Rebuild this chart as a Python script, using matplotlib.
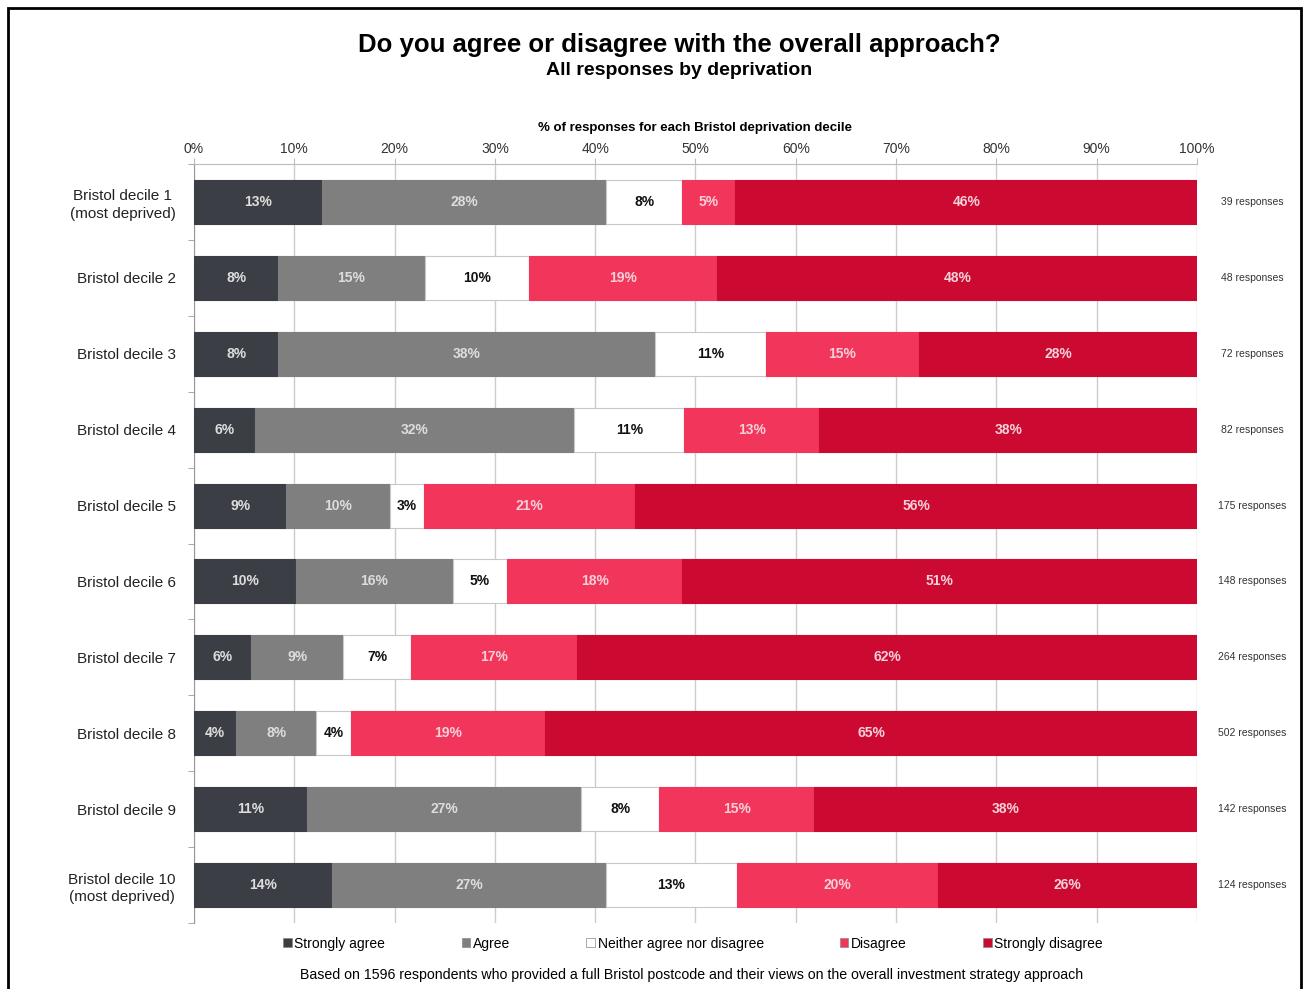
import matplotlib.pyplot as plt
import numpy as np

plt.rcParams['font.family'] = ['Liberation Sans', 'DejaVu Sans']

# data
deciles = ['Bristol decile 1\n(most deprived)', 'Bristol decile 2', 'Bristol decile 3',
           'Bristol decile 4', 'Bristol decile 5', 'Bristol decile 6', 'Bristol decile 7',
           'Bristol decile 8', 'Bristol decile 9', 'Bristol decile 10\n(most deprived)']
strongly_agree = [12.8, 8.4, 8.4, 6.1, 9.2, 10.2, 5.7, 4.2, 11.3, 13.8]
agree = [28.3, 14.6, 37.6, 31.8, 10.3, 15.6, 9.2, 8.0, 27.3, 27.3]
neither = [7.6, 10.4, 11.0, 11.0, 3.4, 5.4, 6.7, 3.5, 7.8, 13.0]
disagree = [5.2, 18.7, 15.3, 13.4, 21.1, 17.5, 16.6, 19.3, 15.4, 20.1]
strongly_disagree = [46.2, 48.0, 27.8, 37.8, 56.0, 51.3, 61.8, 65.0, 38.2, 25.8]
responses = [39, 48, 72, 82, 175, 148, 264, 502, 142, 124]

series = [strongly_agree, agree, neither, disagree, strongly_disagree]
names = ['Strongly agree', 'Agree', 'Neither agree nor disagree', 'Disagree', 'Strongly disagree']
colors = ['#3b3f45', '#7f7f7f', '#ffffff', '#f2355b', '#cc0a31']
textcol = ['#dddddd', '#dddddd', '#111111', '#f5d0d8', '#f5d0d8']

fig = plt.figure(figsize=(13.08, 9.89), dpi=100)
ax = fig.add_axes([0.1483, 0.0667, 0.7668, 0.7675])

y = np.arange(len(deciles))
left = np.zeros(len(deciles))
for vals, nm, c, tc in zip(series, names, colors, textcol):
    vals = np.array(vals)
    ax.barh(y, vals, left=left, height=0.58, color=c, edgecolor='#c8c8c8' if c == '#ffffff' else c,
            linewidth=0.8, label=nm, zorder=3)
    for yi, l, v in zip(y, left, vals):
        ax.text(l + v / 2, yi, '%d%%' % round(v), ha='center', va='center',
                fontsize=10, fontweight='bold', color=tc, zorder=4)
    left += vals

for yi, r in zip(y, responses):
    ax.text(105.5, yi, '%d responses' % r, ha='center', va='center', fontsize=7.5, color='#333333')

ax.set_xlim(0, 100)
ax.set_ylim(len(deciles) - 0.5, -0.5)
ax.set_yticks(y)
ax.set_yticklabels(deciles, fontsize=11, color='#222222', multialignment='center',
                   linespacing=1.3)
ax.set_yticks(np.arange(-0.5, len(deciles), 1), minor=True)
ax.tick_params(axis='y', which='major', length=0, pad=13)
ax.tick_params(axis='y', which='minor', length=4, color='#999999')

ax.xaxis.tick_top()
ax.xaxis.set_label_position('top')
ax.set_xticks(np.arange(0, 101, 10))
ax.set_xticklabels(['%d%%' % t for t in range(0, 101, 10)], fontsize=10, color='#333333')
ax.tick_params(axis='x', length=4, color='#bbbbbb', pad=2)
ax.set_xlabel('% of responses for each Bristol deprivation decile', fontsize=9.5,
              fontweight='bold', labelpad=8)
ax.grid(axis='x', color='#cccccc', linewidth=1, zorder=0)

for s in ['right', 'bottom']:
    ax.spines[s].set_visible(False)
ax.spines['top'].set_color('#bbbbbb')
ax.spines['left'].set_color('#999999')

fig.text(0.519, 0.955, 'Do you agree or disagree with the overall approach?', ha='center',
         va='center', fontsize=18.5, fontweight='bold')
fig.text(0.519, 0.929, 'All responses by deprivation', ha='center', va='center',
         fontsize=14, fontweight='bold')

leg = fig.legend(loc='center', bbox_to_anchor=(0.53, 0.046), ncol=5, frameon=False,
                 fontsize=10, handlelength=0.6, handleheight=0.6, handletextpad=0.2,
                 columnspacing=5.5)
for h in leg.legend_handles:
    h.set_edgecolor('#888888')
    h.set_linewidth(0.5)

fig.text(0.529, 0.014, 'Based on 1596 respondents who provided a full Bristol postcode and their '
         'views on the overall investment strategy approach', ha='center', va='center', fontsize=10.2)

# frame around the figure
fig.add_artist(plt.Rectangle((0.006, -0.01), 0.989, 1.002, transform=fig.transFigure,
                             fill=False, edgecolor='black', linewidth=2))

plt.savefig('out.png', dpi=100)
